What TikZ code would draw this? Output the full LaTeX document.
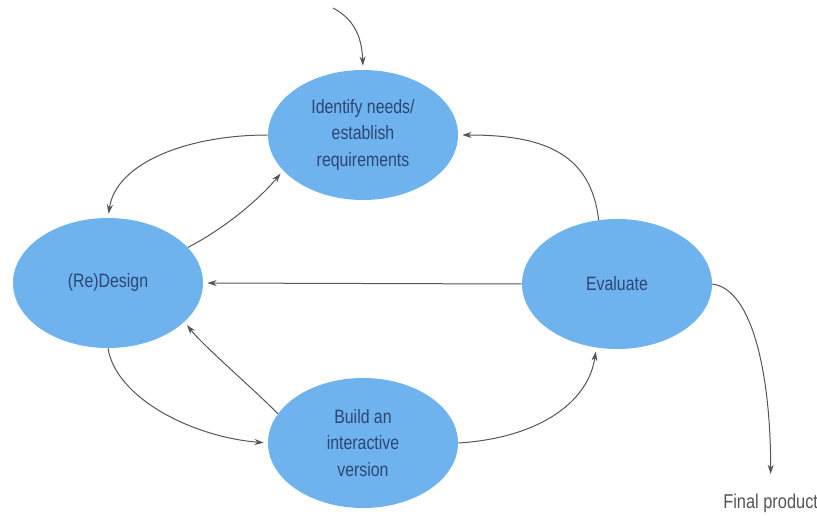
\documentclass[tikz,border=0pt]{standalone}
\usepackage{fontspec}
\setmainfont{Liberation Sans}[FakeStretch=0.82]
\usetikzlibrary{shapes.geometric,arrows.meta}
\definecolor{stageblue}{RGB}{110,178,238}
\definecolor{stagetext}{RGB}{45,70,115}
\definecolor{flowgrey}{RGB}{85,85,85}

\begin{document}
\begin{tikzpicture}[x=0.75pt,y=-0.75pt,
        stage/.style={ellipse,fill=stageblue,minimum width=142.5pt,minimum height=97.5pt,
            inner sep=0pt,align=center,text=stagetext,font=\fontsize{14.5pt}{20pt}\selectfont},
        flow/.style={draw=flowgrey,line width=0.75pt,-{Stealth[length=7pt,width=4.5pt]},shorten >=3pt}]
        \useasboundingbox (0,0) rectangle (817,516);
        \node[stage] (ident) at (363,135) {Identify needs/\\establish\\requirements};
        \node[stage] (design) at (108,283) {(Re)Design};
        \node[stage] (eval) at (617,284) {Evaluate};
        \node[stage] (build) at (363,443) {Build an\\interactive\\version};
        \node[anchor=north west,text=flowgrey,inner sep=0pt,font=\fontsize{15pt}{18pt}\selectfont] (final) at (723,494) {Final product};
        \coordinate (entry) at (333,8);
        \draw[flow] (entry) .. controls (356,20) and (362,40) .. (ident.north);
        \draw[flow] (ident.west) .. controls +(-80,0) and +(8,-55) .. (design.north);
        \draw[flow] (design.24) .. controls +(35,-18) and +(-25,30) .. (ident.204);
        \draw[flow] (eval.west) -- (design.east);
        \draw[flow] (eval.106) .. controls +(-8,-70) and +(80,0) .. (ident.east);
        \draw[flow] (design.south) .. controls +(8,50) and +(-75,-6) .. (build.west);
        \draw[flow] (build.161) .. controls +(-30,-30) and +(20,25) .. (design.-27);
        \draw[flow] (build.east) .. controls +(80,-5) and +(-8,55) .. (eval.252);
        \draw[flow,shorten >=15pt] (eval.east) .. controls +(40,5) and +(0,-120) .. (final.north);
    \end{tikzpicture}
\end{document}
